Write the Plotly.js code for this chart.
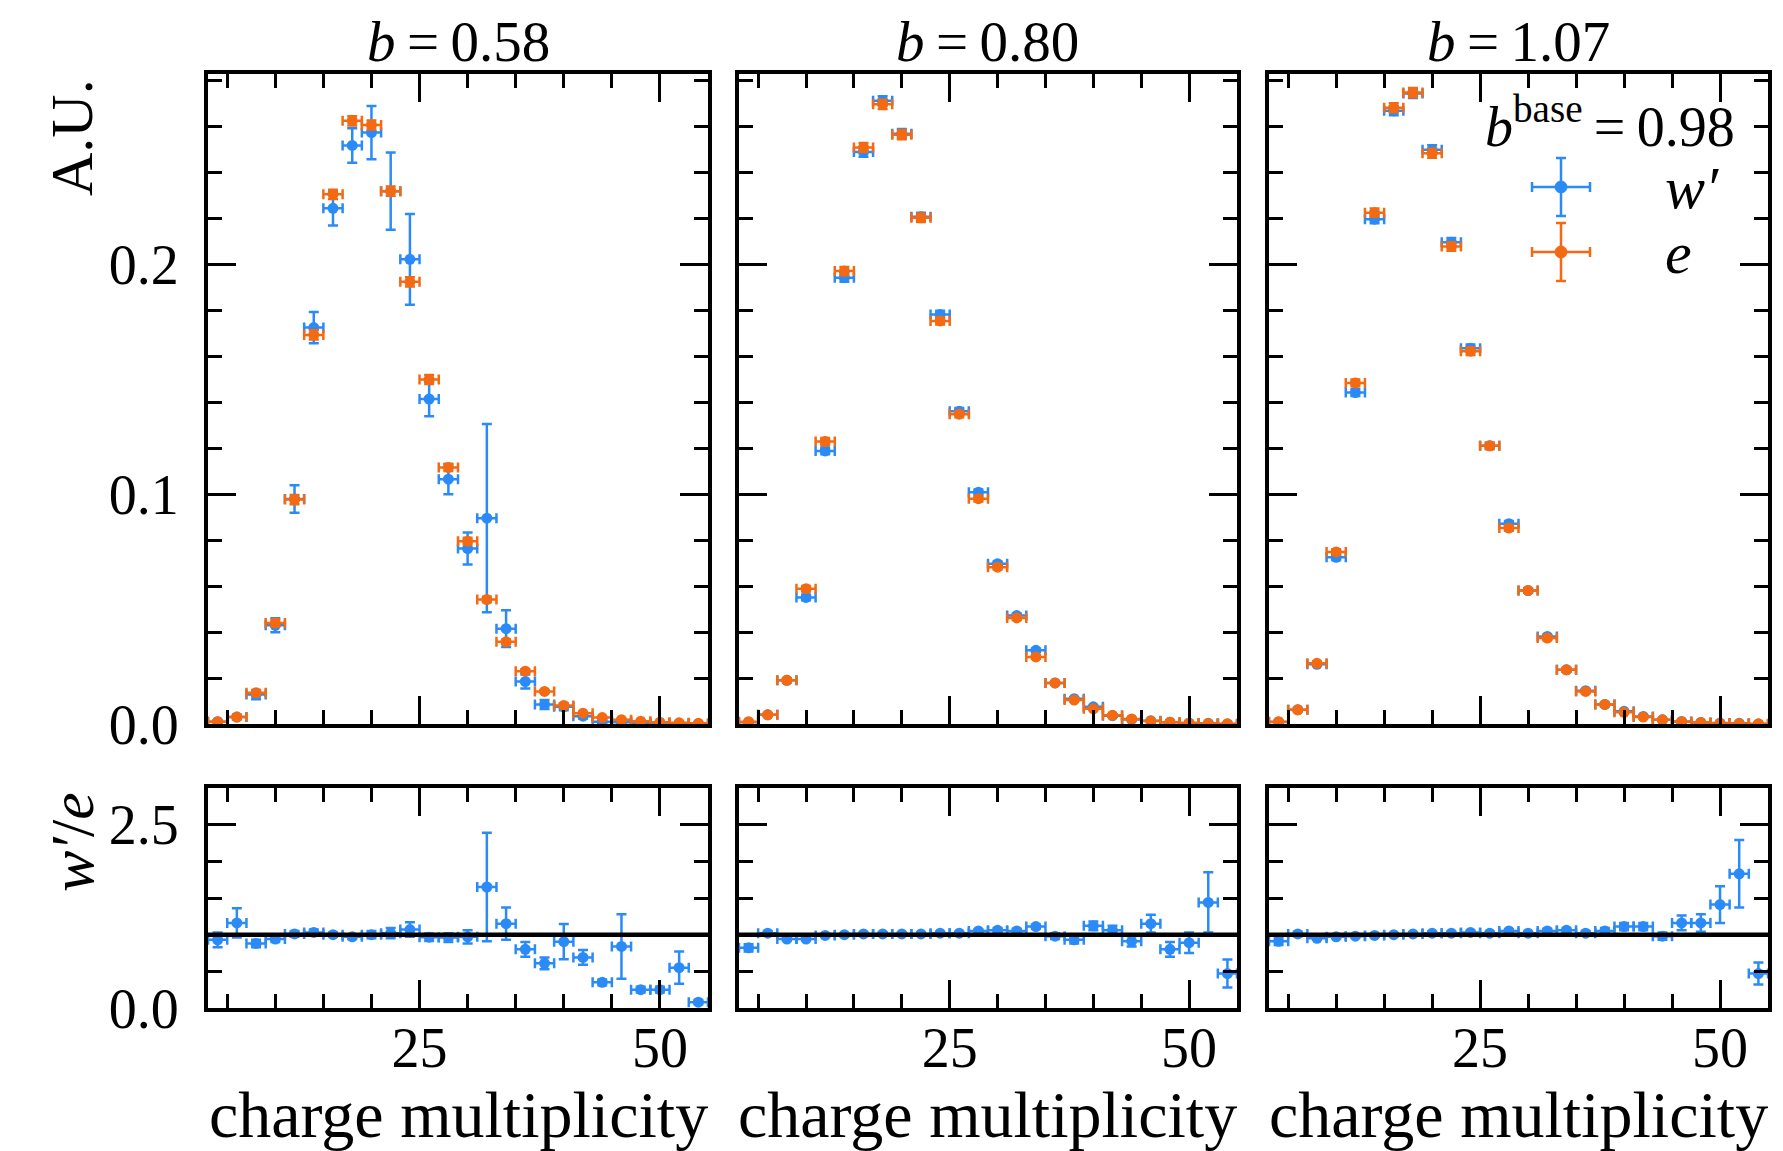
<!DOCTYPE html>
<html>
<head>
<meta charset="utf-8">
<script src="https://cdn.plot.ly/plotly-3.0.1.min.js"></script>
<style>
html, body { margin: 0; padding: 0; background: #ffffff; }
#chart { width: 1783px; height: 1151px; }
</style>
</head>
<body>
<div id="chart"></div>
<script>
// ---------------- data ----------------
const multiplicity = [4, 6, 8, 10, 12, 14, 16, 18, 20, 22, 24, 26, 28, 30, 32, 34, 36, 38, 40, 42, 44, 46, 48, 50, 52, 54];
const binHalfWidth = 1;
const panelTitles = ["0.58", "0.80", "1.07"];
const bBase = "0.98";
const ratioReference = 1;

// b = 0.58
const wPrime_058 = [0.001, 0.003, 0.0128, 0.043, 0.098, 0.1726, 0.2245, 0.2519, 0.2575, 0.232, 0.2023, 0.1415, 0.1066, 0.0764, 0.0896, 0.0415, 0.0185, 0.0085, 0.0075, 0.0034, 0.001, 0.0008, 0.0003, 0.0002, 0.0003, 0.00002];
const wPrimeErr_058 = [0.0005, 0.001, 0.002, 0.003, 0.006, 0.0068, 0.0075, 0.0075, 0.0116, 0.0168, 0.0198, 0.0075, 0.0066, 0.007, 0.041, 0.008, 0.003, 0.002, 0.0015, 0.001, 0.0008, 0.0005, 0.0003, 0.0002, 0.0002, 0.0001];
const e_058 = [0.001, 0.003, 0.0136, 0.044, 0.0977, 0.1694, 0.2306, 0.2626, 0.2608, 0.232, 0.1925, 0.150, 0.1117, 0.0796, 0.0542, 0.0358, 0.023, 0.0142, 0.0081, 0.0047, 0.0028, 0.0019, 0.0012, 0.0008, 0.0005, 0.0003];
const eErr_058 = [0.0003, 0.0005, 0.001, 0.0015, 0.002, 0.002, 0.002, 0.002, 0.002, 0.002, 0.002, 0.002, 0.0015, 0.0015, 0.0012, 0.001, 0.0008, 0.0006, 0.0005, 0.0004, 0.0003, 0.0002, 0.0002, 0.0001, 0.0001, 0.0001];
const ratio_058 = [0.93, 1.16, 0.88, 0.94, 1.01, 1.03, 1.0, 0.97, 1.0, 1.02, 1.07, 0.965, 0.96, 0.97, 1.65, 1.15, 0.8, 0.61, 0.905, 0.69, 0.35, 0.84, 0.25, 0.25, 0.55, 0.08];
const ratioErr_058 = [0.1, 0.2, 0.05, 0.04, 0.04, 0.04, 0.03, 0.03, 0.05, 0.07, 0.1, 0.05, 0.06, 0.09, 0.74, 0.22, 0.1, 0.08, 0.24, 0.1, 0.04, 0.44, 0.04, 0.04, 0.22, 0.03];

// b = 0.80
const wPrime_080 = [0.0008, 0.004, 0.019, 0.0551, 0.1189, 0.1943, 0.249, 0.2713, 0.257, 0.2208, 0.1783, 0.1362, 0.1009, 0.0698, 0.0472, 0.0321, 0.0179, 0.011, 0.0075, 0.0036, 0.002, 0.0014, 0.0008, 0.0004, 0.0003, 0.00005];
const wPrimeErr_080 = [0.0002, 0.0004, 0.0008, 0.0012, 0.0015, 0.0018, 0.002, 0.002, 0.002, 0.0018, 0.0016, 0.0014, 0.0012, 0.001, 0.0009, 0.0008, 0.0006, 0.0005, 0.0004, 0.0003, 0.0002, 0.0002, 0.0001, 0.0001, 0.0001, 0.00003];
const e_080 = [0.001, 0.004, 0.019, 0.0589, 0.123, 0.1972, 0.251, 0.2698, 0.2566, 0.2204, 0.1755, 0.1349, 0.0981, 0.0683, 0.0462, 0.0292, 0.0179, 0.0104, 0.0066, 0.0038, 0.0022, 0.0013, 0.0008, 0.0004, 0.0002, 0.0001];
const eErr_080 = [0.0002, 0.0004, 0.0008, 0.0012, 0.0015, 0.0018, 0.002, 0.002, 0.002, 0.0018, 0.0016, 0.0014, 0.0012, 0.001, 0.0009, 0.0008, 0.0006, 0.0005, 0.0004, 0.0003, 0.0002, 0.0002, 0.0001, 0.0001, 0.0001, 0.00003];
const ratio_080 = [0.82, 1.02, 0.94, 0.94, 0.99, 1.0, 1.01, 1.01, 1.01, 1.01, 1.02, 1.02, 1.05, 1.06, 1.05, 1.11, 0.98, 0.93, 1.12, 1.06, 0.91, 1.15, 0.8, 0.89, 1.44, 0.47];
const ratioErr_080 = [0.05, 0.03, 0.02, 0.02, 0.02, 0.02, 0.02, 0.02, 0.02, 0.02, 0.02, 0.02, 0.02, 0.03, 0.03, 0.03, 0.04, 0.05, 0.06, 0.06, 0.07, 0.12, 0.1, 0.14, 0.41, 0.19];

// b = 1.07
const wPrime_107 = [0.0009, 0.0062, 0.026, 0.0726, 0.1443, 0.2198, 0.267, 0.2745, 0.25, 0.2098, 0.1636, 0.1211, 0.0872, 0.0581, 0.0381, 0.0236, 0.0145, 0.0085, 0.0055, 0.0033, 0.0018, 0.0011, 0.0007, 0.0004, 0.0003, 0.00005];
const wPrimeErr_107 = [0.0002, 0.0005, 0.0008, 0.0012, 0.0015, 0.0018, 0.002, 0.002, 0.002, 0.0018, 0.0016, 0.0014, 0.0012, 0.001, 0.0009, 0.0008, 0.0006, 0.0005, 0.0004, 0.0003, 0.0002, 0.0002, 0.0001, 0.0001, 0.0001, 0.00003];
const e_107 = [0.001, 0.0062, 0.0264, 0.0749, 0.1485, 0.2226, 0.2683, 0.2749, 0.2485, 0.2079, 0.1623, 0.1211, 0.0853, 0.0581, 0.0374, 0.0236, 0.0142, 0.0085, 0.0051, 0.003, 0.0018, 0.001, 0.0006, 0.0003, 0.0002, 0.0001];
const eErr_107 = [0.0002, 0.0005, 0.0008, 0.0012, 0.0015, 0.0018, 0.002, 0.002, 0.002, 0.0018, 0.0016, 0.0014, 0.0012, 0.001, 0.0009, 0.0008, 0.0006, 0.0005, 0.0004, 0.0003, 0.0002, 0.0002, 0.0001, 0.0001, 0.0001, 0.00003];
const ratio_107 = [0.91, 1.01, 0.95, 0.97, 0.98, 0.99, 1.0, 1.01, 1.02, 1.02, 1.03, 1.02, 1.05, 1.02, 1.05, 1.06, 1.02, 1.05, 1.11, 1.11, 0.98, 1.16, 1.16, 1.41, 1.83, 0.47];
const ratioErr_107 = [0.05, 0.03, 0.02, 0.02, 0.02, 0.02, 0.02, 0.02, 0.02, 0.02, 0.02, 0.02, 0.02, 0.02, 0.03, 0.03, 0.03, 0.04, 0.05, 0.05, 0.05, 0.1, 0.12, 0.25, 0.46, 0.15];

// --------------- styling ---------------
const W = 1783, H = 1151;
const BLUE = "#2a8bf8";
const ORANGE = "#f36a12";
const FONT = "Liberation Serif, Times New Roman, serif";
const TICK_SIZE = 56;
const LABEL_SIZE = 60;

const panels = [
  { w: wPrime_058, we: wPrimeErr_058, e: e_058, ee: eErr_058, r: ratio_058, re: ratioErr_058 },
  { w: wPrime_080, we: wPrimeErr_080, e: e_080, ee: eErr_080, r: ratio_080, re: ratioErr_080 },
  { w: wPrime_107, we: wPrimeErr_107, e: e_107, ee: eErr_107, r: ratio_107, re: ratioErr_107 }
];

// pixel geometry of the frames
const colPx = [[208, 708], [739, 1237], [1269, 1768]];
const topPx = [74, 724];
const botPx = [788, 1008];
const px = v => v / W;
const py = v => 1 - v / H;

function series(x, y, err, color, xa, ya) {
  return {
    type: "scatter", mode: "markers", x: x, y: y,
    xaxis: xa, yaxis: ya, showlegend: false, cliponaxis: true,
    marker: { color: color, size: 11 },
    error_y: { type: "data", array: err, visible: true, color: color, thickness: 2.5, width: 5 },
    error_x: { type: "constant", value: binHalfWidth, visible: true, color: color, thickness: 2.5, width: 5 }
  };
}

const data = [];
panels.forEach((p, i) => {
  const tx = "x" + (i + 1), ty = "y" + (i + 1);
  const bx = "x" + (i + 4), by = "y" + (i + 4);
  data.push(series(multiplicity, p.w, p.we, BLUE, tx, ty));
  data.push(series(multiplicity, p.e, p.ee, ORANGE, tx, ty));
  data.push(series(multiplicity, p.r, p.re, BLUE, bx, by));
});

function axisBase() {
  return {
    showline: true, linecolor: "black", linewidth: 4, mirror: "allticks",
    ticks: "inside", ticklen: 28, tickwidth: 3, tickcolor: "black",
    showgrid: false, zeroline: false, fixedrange: true,
    tickfont: { family: FONT, size: TICK_SIZE, color: "black" }
  };
}

const layout = {
  width: W, height: H,
  margin: { l: 0, r: 0, t: 0, b: 0, pad: 0 },
  paper_bgcolor: "white", plot_bgcolor: "white",
  showlegend: false,
  font: { family: FONT, color: "black" },
  annotations: [], shapes: []
};

for (let i = 0; i < 3; i++) {
  const dom = [px(colPx[i][0]), px(colPx[i][1])];
  const xt = Object.assign(axisBase(), {
    domain: dom, anchor: "y" + (i + 1), range: [3, 55],
    tick0: 0, dtick: 25, showticklabels: false,
    minor: { ticks: "inside", ticklen: 14, tickwidth: 3, tickcolor: "black", tick0: 0, dtick: 5, showgrid: false }
  });
  const yt = Object.assign(axisBase(), {
    domain: [py(topPx[1]), py(topPx[0])], anchor: "x" + (i + 1), range: [0, 0.283],
    tick0: 0, dtick: 0.1, tickformat: ".1f", showticklabels: i === 0, ticklabelstandoff: 14,
    minor: { ticks: "inside", ticklen: 14, tickwidth: 3, tickcolor: "black", tick0: 0, dtick: 0.02, showgrid: false }
  });
  const xb = Object.assign(axisBase(), {
    domain: dom, anchor: "y" + (i + 4), range: [3, 55],
    tick0: 0, dtick: 25, showticklabels: true, ticklabelstandoff: -12,
    minor: { ticks: "inside", ticklen: 14, tickwidth: 3, tickcolor: "black", tick0: 0, dtick: 5, showgrid: false }
  });
  const yb = Object.assign(axisBase(), {
    domain: [py(botPx[1]), py(botPx[0])], anchor: "x" + (i + 4), range: [0, 3.0],
    tick0: 0, dtick: 2.5, tickformat: ".1f", showticklabels: i === 0, ticklabelstandoff: 14,
    minor: { ticks: "inside", ticklen: 14, tickwidth: 3, tickcolor: "black", tick0: 0, dtick: 0.5, showgrid: false }
  });
  const s1 = i === 0 ? "" : String(i + 1);
  layout["xaxis" + s1] = xt;
  layout["yaxis" + s1] = yt;
  layout["xaxis" + (i + 4)] = xb;
  layout["yaxis" + (i + 4)] = yb;

  const cx = px((colPx[i][0] + colPx[i][1]) / 2);
  layout.annotations.push({
    xref: "paper", yref: "paper", x: cx, y: py(42), xanchor: "center", yanchor: "middle",
    text: "<i>b</i>\u2009=\u2009" + panelTitles[i], showarrow: false,
    font: { family: FONT, size: 57, color: "black" }
  });
  layout.annotations.push({
    xref: "paper", yref: "paper", x: cx, y: py(1114), xanchor: "center", yanchor: "middle",
    text: "charge multiplicity", showarrow: false,
    font: { family: FONT, size: 66, color: "black" }
  });
  layout.shapes.push({
    type: "line", xref: "x" + (i + 4) + " domain", yref: "y" + (i + 4),
    x0: 0, x1: 1, y0: ratioReference, y1: ratioReference,
    line: { color: "black", width: 4.5 }, layer: "above"
  });
}

layout.annotations.push({
  xref: "paper", yref: "paper", x: px(72), y: py(138), xanchor: "center", yanchor: "middle",
  text: "A.U.", textangle: -90, showarrow: false,
  font: { family: FONT, size: LABEL_SIZE, color: "black" }
});
layout.annotations.push({
  xref: "paper", yref: "paper", x: px(72), y: py(842), xanchor: "center", yanchor: "middle",
  text: "<i>w\u2032</i>/<i>e</i>", textangle: -90, showarrow: false,
  font: { family: FONT, size: 62, color: "black" }
});

layout.annotations.push({
  xref: "paper", yref: "paper", x: px(1737), y: py(122), xanchor: "right", yanchor: "middle",
  text: "<i>b</i><sup>base</sup>\u2009=\u2009" + bBase, showarrow: false,
  font: { family: FONT, size: 56, color: "black" }
});
const legendItems = [
  { name: "<i>w\u2032</i>", color: BLUE, cy: 187 },
  { name: "<i>e</i>", color: ORANGE, cy: 252 }
];
const gx = 1561, half = 29, cap = 5, rad = 6;
legendItems.forEach(it => {
  const c = it.cy;
  const ln = (x0, y0, x1, y1) => ({
    type: "line", xref: "paper", yref: "paper",
    x0: px(x0), y0: py(y0), x1: px(x1), y1: py(y1),
    line: { color: it.color, width: 2.5 }, layer: "above"
  });
  layout.shapes.push(ln(gx - half, c, gx + half, c));
  layout.shapes.push(ln(gx, c - half, gx, c + half));
  layout.shapes.push(ln(gx - half, c - cap, gx - half, c + cap));
  layout.shapes.push(ln(gx + half, c - cap, gx + half, c + cap));
  layout.shapes.push(ln(gx - cap, c - half, gx + cap, c - half));
  layout.shapes.push(ln(gx - cap, c + half, gx + cap, c + half));
  layout.shapes.push({
    type: "circle", xref: "paper", yref: "paper",
    x0: px(gx - rad), x1: px(gx + rad), y0: py(c + rad), y1: py(c - rad),
    fillcolor: it.color, line: { color: it.color, width: 1 }, layer: "above"
  });
  layout.annotations.push({
    xref: "paper", yref: "paper", x: px(1663), y: py(c + 1), xanchor: "left", yanchor: "middle",
    text: it.name, showarrow: false,
    font: { family: FONT, size: 60, color: "black" }
  });
});

Plotly.newPlot("chart", data, layout, { displayModeBar: false, staticPlot: true });
</script>
</body>
</html>
